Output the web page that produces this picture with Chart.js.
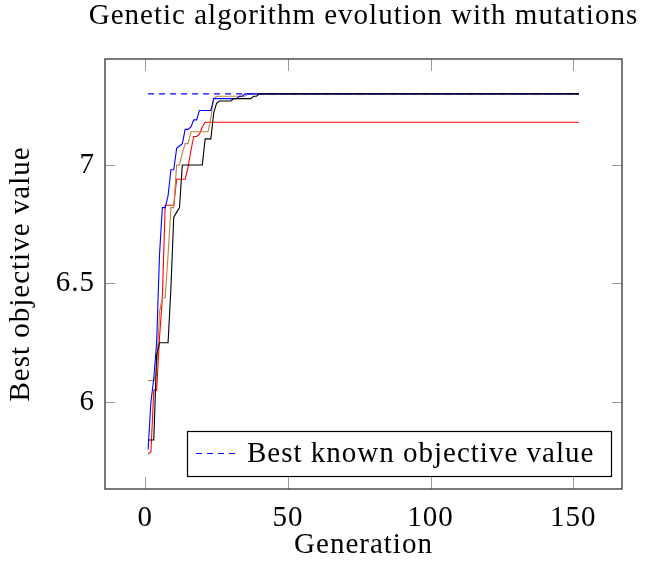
<!DOCTYPE html>
<html>
<head>
<meta charset="utf-8">
<script src="https://cdn.jsdelivr.net/npm/chart.js@4.4.1/dist/chart.umd.min.js"></script>
<style>
  html, body { margin: 0; padding: 0; background: #fff; }
</style>
</head>
<body>
<canvas id="ga-chart" width="645" height="563"></canvas>
<script>
// generation numbers (the last point closes the long flat tail)
const generations = [1, 2, 3, 4, 5, 6, 7, 8, 9, 10,
  11, 12, 13, 14, 15, 16, 17, 18, 19, 20,
  21, 22, 23, 24, 25, 26, 27, 28, 29, 30,
  31, 32, 33, 34, 35, 36, 37, 38, 39, 40, 152];

const runBlue = [5.80, 6.00, 6.10, 6.25, 6.62, 6.82, 6.82, 6.87, 6.98, 6.98,
  7.07, 7.08, 7.09, 7.15, 7.15, 7.16, 7.19, 7.19, 7.23, 7.23,
  7.23, 7.23, 7.23, 7.28, 7.28, 7.28, 7.28, 7.28, 7.28, 7.28,
  7.28, 7.28, 7.29, 7.29, 7.30, 7.30, 7.30, 7.30, 7.30, 7.30, 7.30];

const runRed = [5.78, 5.79, 6.05, 6.05, 6.27, 6.44, 6.83, 6.83, 6.83, 6.83,
  6.94, 6.94, 6.94, 6.94, 6.99, 7.06, 7.12, 7.12, 7.13, 7.16,
  7.18, 7.18, 7.18, 7.18, 7.18, 7.18, 7.18, 7.18, 7.18, 7.18,
  7.18, 7.18, 7.18, 7.18, 7.18, 7.18, 7.18, 7.18, 7.18, 7.18, 7.18];

const runBrown = [6.09, 6.09, 6.09, 6.12, 6.38, 6.44, 6.44, 6.62, 6.82, 6.82,
  7.00, 7.00, 7.05, 7.09, 7.09, 7.14, 7.14, 7.14, 7.14, 7.14,
  7.14, 7.14, 7.20, 7.28, 7.29, 7.29, 7.29, 7.29, 7.29, 7.29,
  7.29, 7.29, 7.29, 7.29, 7.29, 7.30, 7.30, 7.30, 7.30, 7.30, 7.30];

const runBlack = [5.84, 5.84, 5.84, 6.20, 6.25, 6.25, 6.25, 6.25, 6.48, 6.78,
  6.80, 6.82, 7.00, 7.00, 7.00, 7.00, 7.00, 7.00, 7.00, 7.00,
  7.11, 7.11, 7.11, 7.22, 7.26, 7.27, 7.27, 7.27, 7.27, 7.27,
  7.28, 7.28, 7.28, 7.28, 7.28, 7.28, 7.28, 7.29, 7.29, 7.30, 7.30];

const bestKnownX = [1, 152];
const bestKnownY = [7.3, 7.3];

const xTicks = [0, 50, 100, 150];
const yTicks = [6, 6.5, 7];

const titleText = 'Genetic algorithm evolution with mutations';
const legendText = 'Best known objective value';

const serif = '"Liberation Serif", "DejaVu Serif", serif';
const font = { family: serif, size: 29 };

function points(xs, ys) {
  return xs.map((x, i) => ({ x: x, y: ys[i] }));
}

// Computer Modern is a little wider than Times
const wideText = {
  id: 'wideText',
  beforeDraw(chart) { chart.ctx.letterSpacing = '1px'; }
};

// box, inward ticks, title and legend the way pgfplots draws them
const pgfFrame = {
  id: 'pgfFrame',
  afterDatasetsDraw(chart) {
    const ctx = chart.ctx;
    const a = chart.chartArea;
    const xs = chart.scales.x, ys = chart.scales.y;
    ctx.save();

    // tick marks
    ctx.strokeStyle = '#9a9a9a';
    ctx.lineWidth = 1;
    ctx.beginPath();
    xTicks.forEach(v => {
      const px = Math.round(xs.getPixelForValue(v)) + 0.5;
      ctx.moveTo(px, a.bottom); ctx.lineTo(px, a.bottom - 12);
      ctx.moveTo(px, a.top); ctx.lineTo(px, a.top + 12);
    });
    yTicks.forEach(v => {
      const py = Math.round(ys.getPixelForValue(v)) + 0.5;
      ctx.moveTo(a.left, py); ctx.lineTo(a.left + 10, py);
      ctx.moveTo(a.right, py); ctx.lineTo(a.right - 10, py);
    });
    ctx.stroke();

    // axis box
    ctx.strokeStyle = '#333';
    ctx.lineWidth = 1.3;
    ctx.strokeRect(a.left, a.top, a.right - a.left, a.bottom - a.top);

    // title
    ctx.fillStyle = '#000';
    ctx.font = '29px ' + serif;
    ctx.letterSpacing = '1px';
    ctx.textAlign = 'center';
    ctx.textBaseline = 'alphabetic';
    ctx.fillText(titleText, (a.left + a.right) / 2, 24);

    // legend
    ctx.fillStyle = '#fff';
    ctx.fillRect(187, 431, 424, 45);
    ctx.strokeStyle = '#000';
    ctx.lineWidth = 1.2;
    ctx.strokeRect(187.5, 431.5, 424, 45);
    ctx.strokeStyle = '#0000ff';
    ctx.lineWidth = 1.1;
    ctx.setLineDash([6, 5]);
    ctx.beginPath();
    ctx.moveTo(196, 453.5); ctx.lineTo(236, 453.5);
    ctx.stroke();
    ctx.setLineDash([]);
    ctx.fillStyle = '#000';
    ctx.textAlign = 'left';
    ctx.fillText(legendText, 247, 462);
    ctx.restore();
  }
};

const ctx = document.getElementById('ga-chart').getContext('2d');
const gaChart = new Chart(ctx, {
  type: 'line',
  data: {
    datasets: [
      { data: points(bestKnownX, bestKnownY), borderColor: '#0000ff', borderDash: [6, 5], order: 5 },
      { data: points(generations, runBlue), borderColor: '#0000ff', order: 1 },
      { data: points(generations, runRed), borderColor: '#ff0000', order: 3 },
      { data: points(generations, runBrown), borderColor: '#bf8040', order: 2 },
      { data: points(generations, runBlack), borderColor: '#000000', order: 0 },
    ],
  },
  options: {
    responsive: false,
    animation: false,
    devicePixelRatio: 1,
    layout: { padding: { top: 59, right: 23, left: 0, bottom: 0 } },
    elements: {
      point: { radius: 0 },
      line: { borderWidth: 1.1, tension: 0, fill: false },
    },
    plugins: {
      legend: { display: false },
      tooltip: { enabled: false },
      title: { display: false },
    },
    scales: {
      x: {
        type: 'linear',
        min: -14.1,
        max: 167.1,
        grid: { display: false, drawTicks: false },
        border: { display: false },
        ticks: { font: font, color: '#000', padding: 12, maxRotation: 0, autoSkip: false },
        afterBuildTicks: s => { s.ticks = xTicks.map(v => ({ value: v })); },
        afterFit: s => { s.height = 74; },
        title: { display: true, text: 'Generation', font: font, color: '#000', padding: { top: 0, bottom: 0 } },
      },
      y: {
        type: 'linear',
        min: 5.633,
        max: 7.447,
        grid: { display: false, drawTicks: false },
        border: { display: false },
        ticks: { font: font, color: '#000', padding: 10, autoSkip: false, callback: v => String(v) },
        afterBuildTicks: s => { s.ticks = yTicks.map(v => ({ value: v })); },
        afterFit: s => { s.width = 105; },
        title: { display: true, text: 'Best objective value', font: font, color: '#000', padding: { top: 4, bottom: 0 } },
      },
    },
  },
  plugins: [wideText, pgfFrame],
});
</script>
</body>
</html>
